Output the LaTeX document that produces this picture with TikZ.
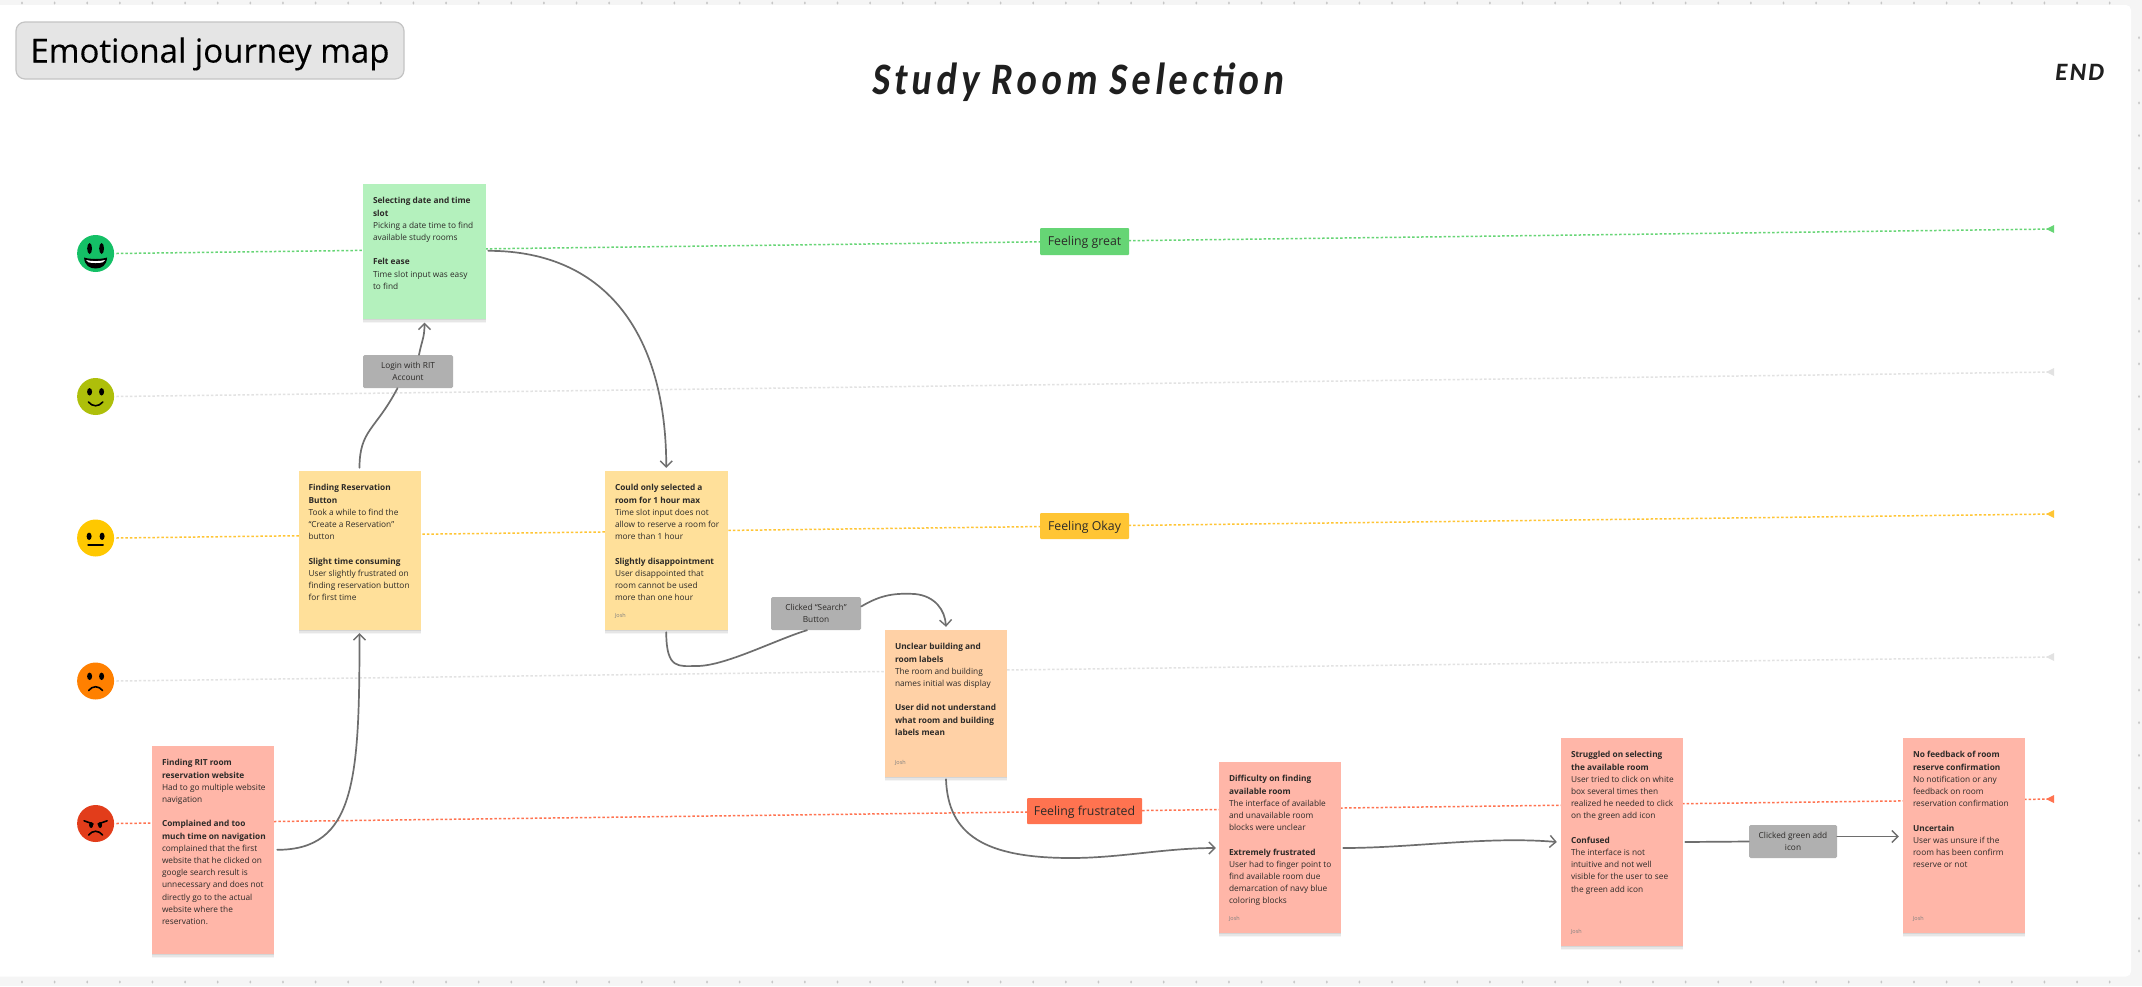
\documentclass[tikz,border=0pt]{standalone}
\usepackage{fontspec}
\setmainfont{Open Sans}
\newfontfamily\mapfont[FakeBold=0.3]{Open Sans}
\newfontfamily\handfont[LetterSpace=9,FakeSlant=0.12,FakeStretch=0.85]{Carlito}
\newfontfamily\endfont[LetterSpace=9,FakeSlant=0.12]{Carlito}
\usetikzlibrary{arrows.meta,calc,shadows}
\definecolor{stgreen}{HTML}{B4F1BD}
\definecolor{styellow}{HTML}{FFE09A}
\definecolor{storange}{HTML}{FFD1A6}
\definecolor{stred}{HTML}{FFB6A8}
\definecolor{lblgrey}{HTML}{B0B0B0}
\definecolor{lnkgrey}{HTML}{6E6E6E}
\definecolor{ink}{HTML}{2C2A28}
\definecolor{lgreen}{HTML}{66D575}
\definecolor{lyellow}{HTML}{FFC534}
\definecolor{lred}{HTML}{FF7350}
\definecolor{lgrey}{HTML}{E2E2E2}
\definecolor{fgreat}{HTML}{14C066}
\definecolor{fgood}{HTML}{AEBF0A}
\definecolor{fokay}{HTML}{FFC800}
\definecolor{fsad}{HTML}{FF8000}
\definecolor{fangry}{HTML}{E23D1B}
\tikzset{
  x=1pt,y=-1pt,
  sticky/.style={rectangle,inner sep=0pt,draw=none,
    drop shadow={shadow xshift=0pt,shadow yshift=-4pt,opacity=.04,fill=black},
    drop shadow={shadow xshift=0pt,shadow yshift=-2.5pt,opacity=.06,fill=black},
    drop shadow={shadow xshift=0pt,shadow yshift=-1pt,opacity=.07,fill=black}},
  stickytext/.style={inner sep=0pt,anchor=north west,align=left,text=ink,font=\fontsize{8.3}{12.2}\selectfont},
  josh/.style={inner sep=0pt,anchor=west,text=black!50,font=\fontsize{5.5}{6}\selectfont},
  tag/.style={rectangle,rounded corners=1.5pt,fill=lblgrey,inner sep=0pt,align=center,text=ink,font=\fontsize{8.3}{12.2}\selectfont},
  feel/.style={rectangle,rounded corners=1pt,inner sep=0pt,text=ink,font=\fontsize{12.3}{14}\selectfont},
  level/.style={line width=1.5pt,dash pattern=on 2.5pt off 2pt},
  face/.style={circle,inner sep=0pt,minimum size=37pt,draw=none},
  link/.style={draw=lnkgrey,line width=1.7pt,line cap=round},
  linkto/.style={link,-{Straight Barb[length=6pt,width=12pt,line width=1.4pt]}},
  faceink/.style={fill=black,draw=none},
  facestroke/.style={draw=black,line width=1.6pt,line cap=round,fill=none},
}
\newcommand{\sticky}[7]{%
  \node[sticky,fill=#6,minimum width={(#4-#2)*1pt},minimum height={(#5-#3)*1pt}] (#1) at ({(#2+#4)/2},{(#3+#5)/2}) {};
  \node[stickytext] (#1-text) at ($(#1.north west)+(10,13.5)$) {#7};}
\newcommand{\joshby}[1]{\node[josh] (#1-josh) at ($(#1.south west)+(10,-14)$) {Josh};}
\newcommand{\lvlend}[2]{\fill[#2] ($(#1)+(-8,0)$) -- ($(#1)+(0,-4)$) -- ($(#1)+(0,4)$) -- cycle;}
\newcommand{\feeltext}[1]{\raisebox{-4.3pt}[0pt][0pt]{#1}}
\newcommand{\tagtext}[2]{\raisebox{-2.5pt}[0pt][0pt]{\begin{tabular}{@{}c@{}}#1\\#2\end{tabular}}}
\begin{document}
\begin{tikzpicture}
\useasboundingbox (0,0) rectangle (2142,986);
\fill[black!4] (0,0) rectangle (2142,986);
\fill[white,rounded corners=5pt] (-12,5) rectangle (2131,976.5);
% ruler dots
\foreach \i in {0,...,64}{
  \fill[black!22] ({22+32.62*\i},3) ellipse (1pt and 1.6pt);
  \fill[black!22] ({22+32.62*\i},982) ellipse (1pt and 1.6pt);}
\foreach \i in {0,...,28}{
  \fill[black!22] (2139,{37.7+32.62*\i}) ellipse (1pt and 1.6pt);}

% titles
\node[rectangle,rounded corners=9pt,fill=black!10,draw=black!23,line width=1.2pt,minimum width=388pt,minimum height=57pt,inner sep=0pt,font=\mapfont\fontsize{33}{38}\selectfont] (maptitle) at (210,50.5) {\raisebox{-12pt}[0pt][0pt]{Emotional journey map}};
\node[inner sep=0pt,font=\handfont\bfseries\fontsize{45}{50}\selectfont,text=black!88] (studytitle) at (1077,82) {Study Room Selection};
\node[inner sep=0pt,font=\endfont\bfseries\fontsize{25}{28}\selectfont,text=black!88] (endtitle) at (2079,72) {END};

% faces
\node[face,fill=fgreat] (f1) at (95.6,253.5) {};
\node[face,fill=fgood] (f2) at (95.6,396.5) {};
\node[face,fill=fokay] (f3) at (95.6,538) {};
\node[face,fill=fsad] (f4) at (95.6,681) {};
\node[face,fill=fangry] (f5) at (95.6,823.5) {};
\begin{scope}[shift={(f1.center)}]
  \fill[faceink] (-6,-5) ellipse (2.4pt and 5.5pt) (6,-5) ellipse (2.4pt and 5.5pt);
  \fill[faceink] (-11.5,4) .. controls (-6,6) and (6,6) .. (11.5,4) .. controls (11,12) and (6,15) .. (0,15) .. controls (-6,15) and (-11,12) .. (-11.5,4) -- cycle;
  \fill[white] (-9.5,6.5) .. controls (-5,8) and (5,8) .. (9.5,6.5) .. controls (9,8.5) and (7,9.5) .. (0,9.5) .. controls (-7,9.5) and (-9,8.5) .. (-9.5,6.5) -- cycle;
\end{scope}
\begin{scope}[shift={(f2.center)}]
  \fill[faceink] (-6,-4.7) ellipse (2.5pt and 3.7pt) (6,-4.7) ellipse (2.5pt and 3.7pt);
  \draw[facestroke] (-7.2,5.5) .. controls (-3,10.5) and (3,10.5) .. (7.2,5.5);
\end{scope}
\begin{scope}[shift={(f3.center)}]
  \fill[faceink] (-6.5,-1.7) ellipse (2.5pt and 3.7pt) (6.5,-1.7) ellipse (2.5pt and 3.7pt);
  \draw[facestroke] (-7.5,7) -- (7.5,7);
\end{scope}
\begin{scope}[shift={(f4.center)}]
  \fill[faceink] (-6,-4.7) ellipse (2.5pt and 3.7pt) (6,-4.7) ellipse (2.5pt and 3.7pt);
  \draw[facestroke] (-7,9.5) .. controls (-3,4.5) and (3,4.5) .. (7,9.5);
\end{scope}
\begin{scope}[shift={(f5.center)}]
  \draw[facestroke] (-11.5,-2.7) -- (-2.5,0.5);
  \draw[facestroke] (11.5,-2.7) -- (2.5,0.5);
  \fill[faceink] (-4.5,1.5) ellipse (2pt and 3pt) (4.5,1.5) ellipse (2pt and 3pt);
  \draw[facestroke] (-7,11.5) .. controls (-3,6.5) and (3,6.5) .. (7,11.5);
\end{scope}

% level lines
\coordinate (e1) at (2054,229);
\coordinate (e2) at (2054,372);
\coordinate (e3) at (2054,514);
\coordinate (e4) at (2054,657);
\coordinate (e5) at (2054,799);
\draw[level,draw=lgreen] ($(f1.east)+(2,0)$) -- (e1);
\draw[level,draw=lgrey] ($(f2.east)+(2,0)$) -- (e2);
\draw[level,draw=lyellow] ($(f3.east)+(2,0)$) -- (e3);
\draw[level,draw=lgrey] ($(f4.east)+(2,0)$) -- (e4);
\draw[level,draw=lred] ($(f5.east)+(2,0)$) -- (e5);
\lvlend{e1}{lgreen}\lvlend{e2}{lgrey}\lvlend{e3}{lyellow}\lvlend{e4}{lgrey}\lvlend{e5}{lred}

% feeling tags
\node[feel,fill=lgreen,minimum width=89pt,minimum height=27pt] (fgreatlbl) at (1084.5,241.5) {\feeltext{Feeling great}};
\node[feel,fill=lyellow,minimum width=89pt,minimum height=26pt] (fokaylbl) at (1084.5,526) {\feeltext{Feeling Okay}};
\node[feel,fill=lred,minimum width=115pt,minimum height=26pt] (ffrustlbl) at (1084.5,811) {\feeltext{Feeling frustrated}};

% stickies
\sticky{s1}{363}{184}{486}{319}{stgreen}{\textbf{Selecting date and time}\\\textbf{slot}\\Picking a date time to find\\available study rooms\\[12.2pt]\textbf{Felt ease}\\Time slot input was easy\\to find}
\sticky{s2}{298.5}{471}{420.5}{630}{styellow}{\textbf{Finding Reservation}\\\textbf{Button}\\Took a while to find the\\``Create a Reservation''\\button\\[12.2pt]\textbf{Slight time consuming}\\User slightly frustrated on\\finding reservation button\\for first time}
\sticky{s3}{605}{471}{727.5}{630}{styellow}{\textbf{Could only selected a}\\\textbf{room for 1 hour max}\\Time slot input does not\\allow to reserve a room for\\more than 1 hour\\[12.2pt]\textbf{Slightly disappointment}\\User disappointed that\\room cannot be used\\more than one hour}
\joshby{s3}
\sticky{s4}{885}{630}{1007}{777}{storange}{\textbf{Unclear building and}\\\textbf{room labels}\\The room and building\\names initial was display\\[12.2pt]\textbf{User did not understand}\\\textbf{what room and building}\\\textbf{labels mean}}
\joshby{s4}
\sticky{s5}{152}{746}{274}{954}{stred}{\textbf{Finding RIT room}\\\textbf{reservation website}\\Had to go multiple website\\navigation\\[12.2pt]\textbf{Complained and too}\\\textbf{much time on navigation}\\complained that the first\\website that he clicked on\\google search result is\\unnecessary and does not\\directly go to the actual\\website where the\\reservation.}
\sticky{s6}{1219}{762}{1341}{933}{stred}{\textbf{Difficulty on finding}\\\textbf{available room}\\The interface of available\\and unavailable room\\blocks were unclear\\[12.2pt]\textbf{Extremely frustrated}\\User had to finger point to\\find available room due\\demarcation of navy blue\\coloring blocks}
\joshby{s6}
\sticky{s7}{1561}{738}{1683}{946}{stred}{\textbf{Struggled on selecting}\\\textbf{the available room}\\User tried to click on white\\box several times then\\realized he needed to click\\on the green add icon\\[12.2pt]\textbf{Confused}\\The interface is not\\intuitive and not well\\visible for the user to see\\the green add icon}
\joshby{s7}
\sticky{s8}{1903}{738}{2025}{933}{stred}{\textbf{No feedback of room}\\\textbf{reserve confirmation}\\No notification or any\\feedback on room\\reservation confirmation\\[12.2pt]\textbf{Uncertain}\\User was unsure if the\\room has been confirm\\reserve or not}
\joshby{s8}

% action tags
\node[tag,minimum width=90pt,minimum height=33pt] (login) at (408,371.5) {\tagtext{Login with RIT}{Account}};
\node[tag,minimum width=90pt,minimum height=33pt] (search) at (816,613.5) {\tagtext{Clicked ``Search''}{Button}};
\node[tag,minimum width=88pt,minimum height=33pt] (addicon) at (1793,841.5) {\tagtext{Clicked green add}{icon}};

% connectors
\draw[linkto] ($(s5.north east)+(3,104)$) .. controls +(78,0) and +(0,147) .. ($(s2.south)+(0,3)$);
\draw[link] ($(s2.north)+(0,-3)$) .. controls +(0,-38) and +(-22,42) .. ($(login.south)+(-10.5,0)$);
\draw[linkto] ($(login.north)+(11,0)$) .. controls +(3,-15) and +(0,15) .. ($(s1.south)+(0,3.5)$);
\draw[linkto] ($(s1.north east)+(2,67)$) .. controls +(122,0) and +(0,-128) .. ($(s3.north)+(0,-3)$);
\draw[link] ($(s3.south)+(0,2)$) .. controls +(0,38) and +(-18,0) .. (697,666) .. controls (725,666) and (775,640) .. ($(search.south)+(-9,0)$);
\draw[linkto] ($(search.east)+(0,-7)$) .. controls +(20,-12) and +(-20,-1) .. (915,594) .. controls (935,596) and (945,610) .. ($(s4.north)+(0,-3)$);
\draw[linkto] ($(s4.south)+(0,2)$) .. controls +(2,56) and +(-86,0) .. (1071,858) .. controls (1120,858) and (1165,848) .. ($(s6.west)+(-3,0.5)$);
\draw[linkto] ($(s6.east)+(2,0.5)$) .. controls +(70,0) and +(-70,-6) .. ($(s7.west)+(-4,0)$);
\draw[link] ($(s7.east)+(2,0)$) -- (addicon.west);
\draw[linkto] ($(addicon.east)+(0,-5)$) -- ($(s8.west)+(-4,1)$);
\end{tikzpicture}
\end{document}
